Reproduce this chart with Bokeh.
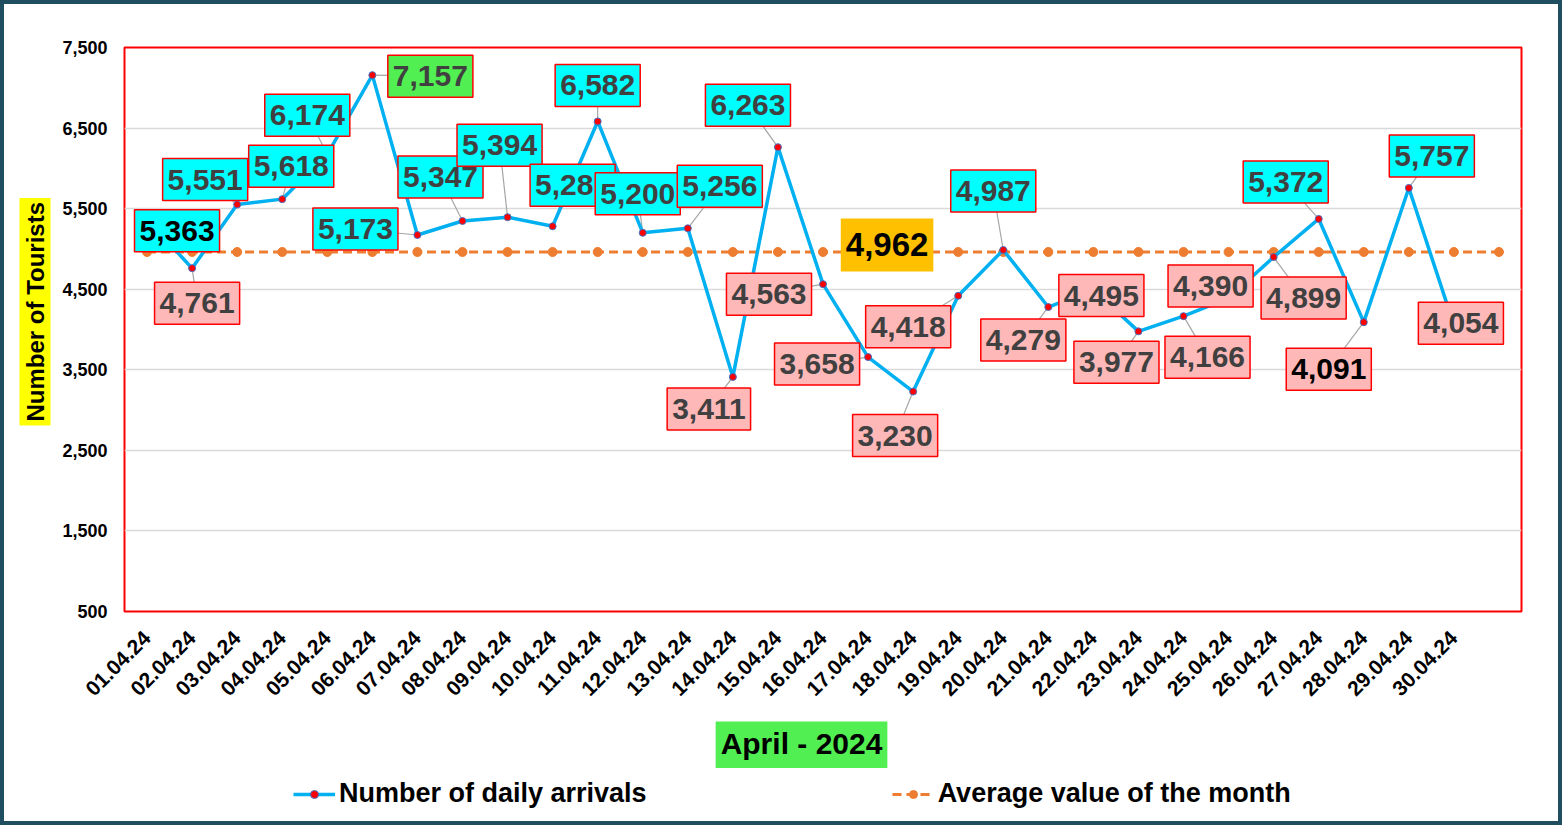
from math import pi
from bokeh.plotting import figure
from bokeh.layouts import column
from bokeh.models import (Range1d, FixedTicker, NumeralTickFormatter, Title,
                          Legend, LegendItem, ColumnDataSource)
from bokeh.embed import file_html
from bokeh.resources import INLINE
from bokeh.core.properties import value

# ---------------- data ----------------
dates = ["01.04.24", "02.04.24", "03.04.24", "04.04.24", "05.04.24", "06.04.24",
         "07.04.24", "08.04.24", "09.04.24", "10.04.24", "11.04.24", "12.04.24",
         "13.04.24", "14.04.24", "15.04.24", "16.04.24", "17.04.24", "18.04.24",
         "19.04.24", "20.04.24", "21.04.24", "22.04.24", "23.04.24", "24.04.24",
         "25.04.24", "26.04.24", "27.04.24", "28.04.24", "29.04.24", "30.04.24"]
arrivals = [5363, 4761, 5551, 5618, 6174, 7157, 5173, 5347, 5394, 5281,
            6582, 5200, 5256, 3411, 6263, 4563, 3658, 3230, 4418, 4987,
            4279, 4495, 3977, 4166, 4390, 4899, 5372, 4091, 5757, 4054]
average_value = 4962
y_ticks = [500, 1500, 2500, 3500, 4500, 5500, 6500, 7500]
series_names = ["Number of daily arrivals", "Average value of the month"]
x_title = "April - 2024"
y_title = "Number of Tourists"

# ---------------- layout / style ----------------
FONT = "Liberation Sans"
FRAME_W, FRAME_H = 1397, 564
CANVAS_W = 1553
N_SLOTS = len(dates) + 1
Y0, Y1 = y_ticks[0], y_ticks[-1]
PX_X = FRAME_W / N_SLOTS
PX_Y = FRAME_H / (Y1 - Y0)

# label box offsets in pixels (right, down) from each point
label_dx = [30, 5, -32, 9, -20, 58, -62, -22, -8, 20,
            0, -5, 32, -24, -30, -54, -51, -18, -50, -10,
            -25, 8, -22, 24, -18, 30, -33, -35, 23, 7]
label_dy = [11, 35, -25, -33, -39, 1, -6, -44, -72, -41,
            -36, -39, -42, 32, -42, 10, 7, 44, 31, -59,
            33, 6, 31, 41, -12, 41, -37, 47, -32, -2]
black_labels = {0, 27}
avg_label_index = 16
avg_label_dx, avg_label_dy = 19, -7

xs = [i + 0.5 for i in range(len(dates))]
avg_x = [i + 0.5 for i in range(N_SLOTS)]
avg_y = [average_value] * N_SLOTS

vmax = max(arrivals)
fills, tcolors, lx, ly, texts = [], [], [], [], []
for i, v in enumerate(arrivals):
    if v == vmax:
        fills.append("#52EF52")
    elif v > average_value:
        fills.append("#00FFFF")
    else:
        fills.append("#FFB8B8")
    tcolors.append("#000000" if i in black_labels else "#404040")
    lx.append(xs[i] + label_dx[i] / PX_X)
    ly.append(v - label_dy[i] / PX_Y)
    texts.append(f"{v:,}")

p = figure(frame_width=FRAME_W, frame_height=FRAME_H,
           min_border_left=119, min_border_right=CANVAS_W - 119 - FRAME_W,
           min_border_top=43, min_border_bottom=110,
           x_range=Range1d(0, N_SLOTS), y_range=Range1d(Y0, Y1),
           output_backend="svg", toolbar_location=None,
           background_fill_color="white", border_fill_color="white")
p.outline_line_color = "#FF0000"
p.outline_line_width = 2

p.xgrid.visible = False
p.ygrid.ticker = FixedTicker(ticks=y_ticks)
p.ygrid.grid_line_color = "#D9D9D9"
p.ygrid.grid_line_width = 1.5

# axes
p.yaxis.ticker = FixedTicker(ticks=y_ticks)
p.yaxis.formatter = NumeralTickFormatter(format="0,0")
p.xaxis.ticker = FixedTicker(ticks=xs)
p.xaxis.major_label_overrides = {x: d for x, d in zip(xs, dates)}
p.xaxis.major_label_orientation = pi / 4
for ax in (p.xaxis, p.yaxis):
    ax.axis_line_color = None
    ax.major_tick_line_color = None
    ax.minor_tick_line_color = None
    ax.major_label_text_font = FONT
    ax.major_label_text_font_style = "bold"
    ax.major_label_text_color = "#000000"
p.yaxis.major_label_text_font_size = "18px"
p.yaxis.major_label_standoff = 11
p.xaxis.major_label_text_font_size = "21px"
p.xaxis.major_label_standoff = 17

# average line
avg_line = p.line(avg_x, avg_y, line_color="#ED7D31", line_width=3, line_dash="9 5")
avg_pts = p.scatter(avg_x, avg_y, size=9, fill_color="#ED7D31", line_color="#ED7D31")

# leader lines
p.segment(x0=xs, y0=arrivals, x1=lx, y1=ly, line_color="#A6A6A6", line_width=1.2)

# daily line
day_line = p.line(xs, arrivals, line_color="#00B0F0", line_width=3.5)
day_pts = p.scatter(xs, arrivals, size=7, fill_color="#FF0000", line_color="#4472C4",
                    line_width=1)

# data labels
src = ColumnDataSource(dict(x=lx, y=ly, text=texts, fill=fills, tc=tcolors))
p.text(x="x", y="y", text="text", source=src, text_align="center",
       text_baseline="middle", text_font=value(FONT), text_font_style="bold",
       text_font_size="30px", text_color="tc",
       background_fill_color="fill", border_line_color="#FF0000",
       border_line_width=1.5, padding=(5, 11))

# average label
p.text(x=[avg_x[avg_label_index] + avg_label_dx / PX_X],
       y=[average_value - avg_label_dy / PX_Y], text=[f"{average_value:,}"],
       text_align="center", text_baseline="middle", text_font=value(FONT),
       text_font_style="bold", text_font_size="33px", text_color="#000000",
       background_fill_color="#FFC000", padding=(5, 15))

# y-axis title
p.add_layout(Title(text=y_title, align="left", offset=186, standoff=18,
                   text_font=FONT, text_font_style="bold", text_font_size="24px",
                   text_line_height=1.0,
                   text_color="#000000", background_fill_color="#FFFF00",
                   padding=(4, 2)), "left")

# ---------------- bottom strip: x title + legend ----------------
STRIP_H = 100
p2 = figure(frame_width=CANVAS_W, frame_height=STRIP_H, min_border=0,
            x_range=Range1d(0, CANVAS_W), y_range=Range1d(STRIP_H, 0),
            x_axis_type=None, y_axis_type=None,
            output_backend="svg", toolbar_location=None,
            background_fill_color="white", border_fill_color="white")
p2.outline_line_color = None
p2.grid.visible = False

p2.text(x=[0], y=[22], x_offset=677, text=[x_title], text_align="center",
        text_baseline="middle",
        text_font=value(FONT), text_font_style="bold", text_font_size="30px",
        text_color="#000000", background_fill_color="#52EF52", padding=(5, 8))

# legend renderers (series data lie outside this strip's range, so only the keys show)
k_day_line = p2.line(xs, arrivals, line_color="#00B0F0", line_width=3.5)
k_day_pts = p2.scatter(xs, arrivals, size=7, fill_color="#FF0000", line_color="#4472C4",
                       line_width=1)
k_avg_line = p2.line(avg_x, avg_y, line_color="#ED7D31", line_width=3, line_dash="9 5")
k_avg_pts = p2.scatter(avg_x, avg_y, size=9, fill_color="#ED7D31", line_color="#ED7D31")

legend = Legend(items=[LegendItem(label=series_names[0], renderers=[k_day_line, k_day_pts]),
                       LegendItem(label=series_names[1], renderers=[k_avg_line, k_avg_pts])],
                location=(289, 12), orientation="horizontal", padding=0, margin=0,
                spacing=245, border_line_color=None, background_fill_alpha=0,
                glyph_width=42, label_standoff=4,
                label_text_font=FONT, label_text_font_style="bold",
                label_text_font_size="27px", label_text_color="#000000")
p2.add_layout(legend)

page = column(p, p2, spacing=0)
page.styles = {"border": "4px solid #1F4E61"}

open("out.html", "w").write(file_html(page, INLINE))
